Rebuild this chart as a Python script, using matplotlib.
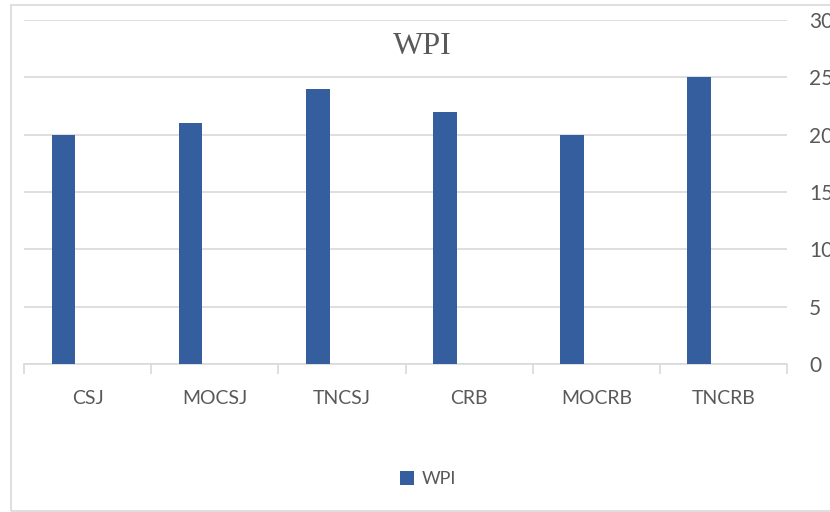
import numpy as np
import matplotlib.pyplot as plt
from matplotlib.patches import Rectangle

# Data:
categories = ['CSJ', 'MOCSJ', 'TNCSJ', 'CRB', 'MOCRB', 'TNCRB']
wpi = [20, 21, 24, 22, 20, 25]
yticks = [0, 5, 10, 15, 20, 25, 30]

W, H = 830, 512
bar_col = '#355E9F'
grid_col = '#D9D9D9'
txt_col = '#595959'
font = ['Lato', 'DejaVu Sans']

fig = plt.figure(figsize=(W / 100, H / 100), dpi=100)

# outer chart border (right edge is cut off in the reference)
fig.patches.append(Rectangle((11 / W, 1 - 511 / H), 830 / W, 506 / H,
                             transform=fig.transFigure, fill=False,
                             edgecolor=grid_col, lw=1.2))

ax = fig.add_axes([24 / W, 1 - 364 / H, (787 - 24) / W, (364 - 20) / H])
x = np.arange(len(categories))
ax.bar(x - 0.19, wpi, width=0.185, color=bar_col, label='WPI', zorder=3)

ax.set_xlim(-0.5, len(categories) - 0.5)
ax.set_ylim(0, 30)
ax.set_yticks(yticks)
ax.yaxis.tick_right()
ax.tick_params(axis='y', length=0, pad=16, labelsize=15, labelcolor=txt_col)
for lab in ax.get_yticklabels():
    lab.set_family(font)
ax.grid(axis='y', color=grid_col, lw=1.2, zorder=0)

ax.set_xticks(x)
ax.set_xticklabels(categories, family=font, fontsize=14, color=txt_col)
ax.tick_params(axis='x', which='major', length=0, pad=19)
ax.set_xticks(np.arange(-0.5, len(categories)), minor=True)
ax.tick_params(axis='x', which='minor', length=7, color=grid_col, width=1.2)

for s in ['top', 'left', 'right']:
    ax.spines[s].set_visible(False)
ax.spines['bottom'].set_color(grid_col)
ax.spines['bottom'].set_linewidth(1.2)

fig.text(422 / W, 1 - 46 / H, 'WPI', ha='center', va='center',
         family='Liberation Serif', fontsize=23, color=txt_col)

fig.legend(loc='center', bbox_to_anchor=(428 / W, 1 - 479 / H), frameon=False,
           prop={'family': font, 'size': 13}, labelcolor=txt_col,
           handlelength=0.8, handleheight=0.8, handletextpad=0.4)

fig.savefig('out.png', dpi=100)
